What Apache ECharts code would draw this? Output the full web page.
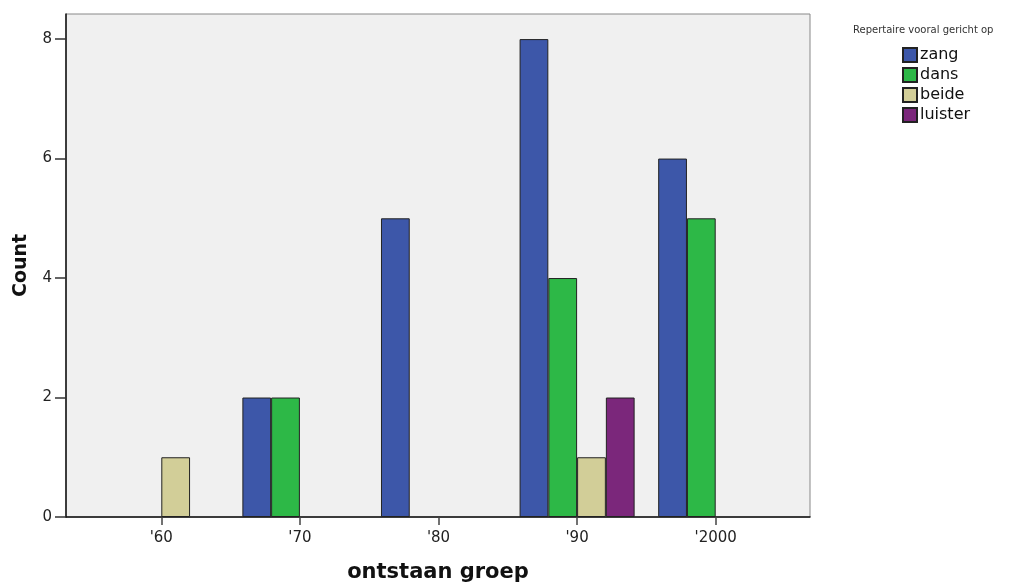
<!DOCTYPE html>
<html>
<head>
<meta charset="utf-8">
<script src="https://cdn.jsdelivr.net/npm/echarts@6/dist/echarts.min.js"></script>
<style>html,body{margin:0;padding:0;background:#fff;}#c{width:1026px;height:586px;}</style>
</head>
<body>
<div id="c"></div>
<script>
var categories = ["'60", "'70", "'80", "'90", "'2000"];
var zang    = [null, 2, 5, 8, 6];
var dans    = [null, 2, null, 4, 5];
var beide   = [1, null, null, 1, null];
var luister = [null, null, null, 2, null];
var yTicks = [0, 2, 4, 6, 8];
var seriesNames = ['zang', 'dans', 'beide', 'luister'];
var seriesColors = ['#3D57A9', '#2DB847', '#D2CE98', '#7B277B'];
var seriesData = [zang, dans, beide, luister];

var chart = echarts.init(document.getElementById('c'));
var series = seriesNames.map(function (n, i) {
  return {
    name: n, type: 'bar', xAxisIndex: 1, yAxisIndex: 1,
    data: seriesData[i],
    barGap: '0%', barCategoryGap: '17%',
    itemStyle: { color: seriesColors[i], borderColor: '#222', borderWidth: 1 },
    emphasis: { disabled: true }
  };
});
chart.setOption({
  animation: false,
  textStyle: { fontFamily: 'DejaVu Sans, sans-serif' },
  legend: {
    orient: 'vertical', left: 902, top: 47, icon: 'rect', padding: 0,
    itemWidth: 14, itemHeight: 14, itemGap: 4,
    textStyle: { fontSize: 16, lineHeight: 15, color: '#111', padding: [0, 0, 0, -2] },
    data: seriesNames
  },
  title: {
    text: 'Repertaire vooral gericht op', left: 853, top: 25, padding: 0,
    textStyle: { fontSize: 10, fontWeight: 'normal', color: '#333', fontFamily: 'DejaVu Sans' }
  },
  grid: [
    { left: 66, right: 216, top: 14, bottom: 69, outerBoundsMode: 'none', containLabel: false,
      show: true, backgroundColor: '#F0F0F0', borderColor: '#888', borderWidth: 1 },
    { left: 92, right: 241, top: 14, bottom: 69, outerBoundsMode: 'none', containLabel: false }
  ],
  xAxis: [
    { type: 'value', gridIndex: 0, min: 0, max: 1,
      axisLine: { show: true, lineStyle: { color: '#111', width: 1.5 } },
      axisTick: { show: false }, axisLabel: { show: false }, splitLine: { show: false },
      name: 'ontstaan groep', nameLocation: 'middle', nameGap: 45,
      nameTextStyle: { fontFamily: 'DejaVu Sans', fontWeight: 'bold', fontSize: 21, color: '#111' }
    },
    { type: 'category', gridIndex: 1, data: categories,
      axisLine: { show: false },
      axisTick: { show: true, alignWithLabel: true, length: 8, lineStyle: { color: '#444', width: 1.5 } },
      axisLabel: { fontSize: 15, color: '#222', margin: 14 }
    }
  ],
  yAxis: [
    { type: 'value', gridIndex: 0, min: 0, max: 8.42,
      axisLine: { show: true, lineStyle: { color: '#111', width: 1.5 } },
      axisTick: { show: true, length: 11, customValues: yTicks, lineStyle: { color: '#333', width: 1.5 } },
      axisLabel: { customValues: yTicks, fontSize: 15, color: '#222', margin: 14 },
      splitLine: { show: false },
      name: 'Count', nameLocation: 'middle', nameGap: 35, nameRotate: 90,
      nameTextStyle: { fontFamily: 'DejaVu Sans', fontWeight: 'bold', fontSize: 19, color: '#111' }
    },
    { type: 'value', gridIndex: 1, min: 0, max: 8.42, show: false }
  ],
  series: series
});
</script>
</body>
</html>
